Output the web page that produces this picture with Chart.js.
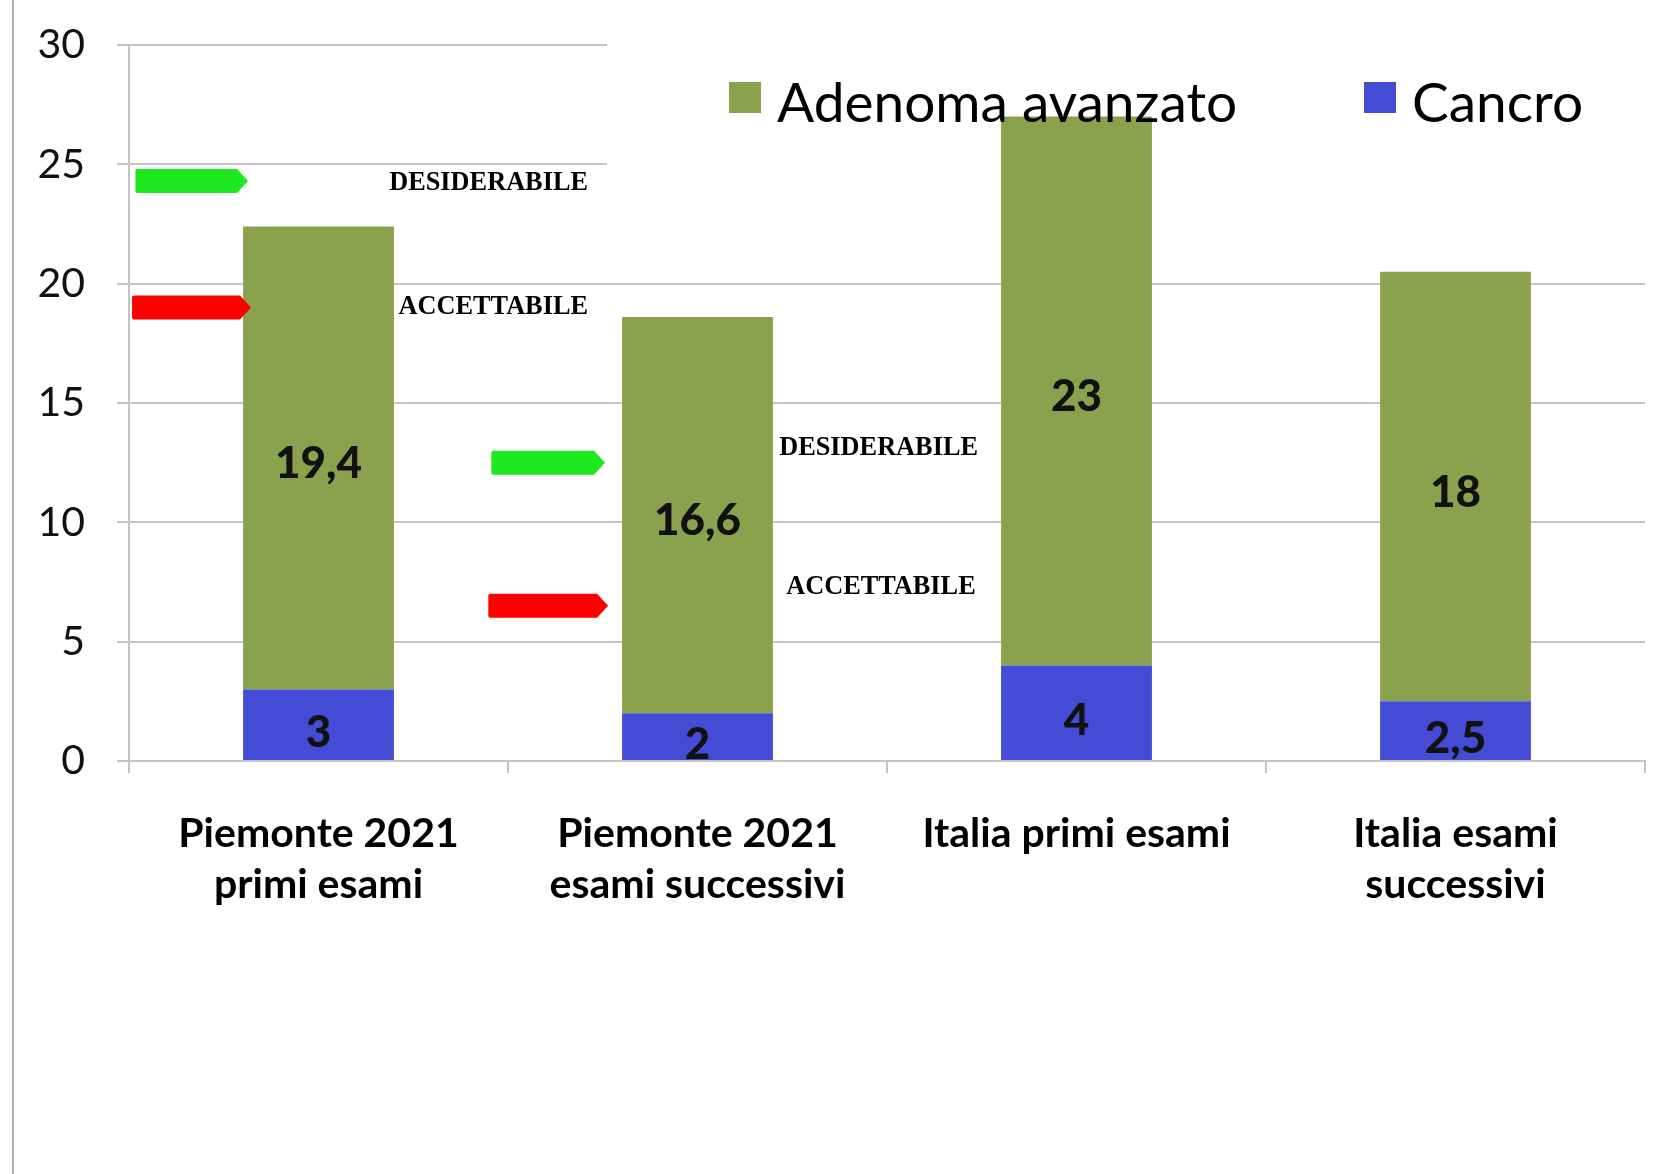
<!DOCTYPE html>
<html>
<head>
<meta charset="utf-8">
<script src="https://cdn.jsdelivr.net/npm/chart.js@4/dist/chart.umd.min.js"></script>
<style>
  html, body { margin: 0; padding: 0; background: #fff; }
  #wrap { position: relative; width: 1666px; height: 1174px; }
</style>
</head>
<body>
<div id="wrap"><canvas id="chart" width="1666" height="1174"></canvas></div>
<script>
// data
const categories = [
    ['Piemonte 2021', 'primi esami'],
    ['Piemonte 2021', 'esami successivi'],
    'Italia primi esami',
    ['Italia esami', 'successivi']
];
const cancro = [3, 2, 4, 2.5];
const adenoma = [19.4, 16.6, 23, 18];
const yTicks = [0, 5, 10, 15, 20, 25, 30];
const soglieTesti = ['DESIDERABILE', 'ACCETTABILE', 'DESIDERABILE', 'ACCETTABILE'];
const soglieValori = [24.3, 19.0, 12.5, 6.5];

const GREEN = '#8aa24d';
const BLUE = '#444cd6';
const GRID = '#c4c4c4';

function fmt(v) {
    return String(v).replace('.', ',');
}

// arrows + their captions (x in category units)
const arrowLayout = [
    { x0: -0.483, x1: -0.186, color: '#1ee81e', textEnd: 0.711, textVal: 24.2 },
    { x0: -0.492, x1: -0.178, color: '#ff0000', textEnd: 0.711, textVal: 19.0 },
    { x0: 0.456, x1: 0.756, color: '#1ee81e', textEnd: 1.740, textVal: 13.1 },
    { x0: 0.448, x1: 0.764, color: '#ff0000', textEnd: 1.734, textVal: 7.3 }
];

const decorPlugin = {
    id: 'decor',
    beforeDatasetsDraw(chart) {
        const ctx = chart.ctx;
        // white box of the legend hides the top gridlines on the right
        ctx.save();
        ctx.fillStyle = '#fff';
        ctx.fillRect(607, 0, chart.width - 607, 200);
        ctx.restore();
    },
    afterDatasetsDraw(chart) {
        const ctx = chart.ctx;
        const xs = chart.scales.x;
        const ys = chart.scales.y;
        ctx.save();

        // value labels inside the segments
        ctx.font = '900 44px Lato';
        ctx.fillStyle = '#111';
        ctx.textAlign = 'center';
        ctx.textBaseline = 'middle';
        chart.data.datasets.forEach((ds, di) => {
            const shift = di === 0 ? 8 : 6;
            chart.getDatasetMeta(di).data.forEach((bar, i) => {
                const cy = (bar.y + bar.base) / 2 + shift;
                ctx.fillText(fmt(ds.data[i]), bar.x, cy);
            });
        });

        // threshold arrows
        soglieValori.forEach((v, i) => {
            const a = arrowLayout[i];
            const x0 = xs.getPixelForValue(a.x0);
            const x1 = xs.getPixelForValue(a.x1);
            const y = ys.getPixelForValue(v);
            const h = 24, tip = 11;
            ctx.fillStyle = a.color;
            ctx.beginPath();
            ctx.moveTo(x0 + 2, y - h / 2);
            ctx.lineTo(x1 - tip, y - h / 2);
            ctx.lineTo(x1, y);
            ctx.lineTo(x1 - tip, y + h / 2);
            ctx.lineTo(x0 + 2, y + h / 2);
            ctx.quadraticCurveTo(x0, y + h / 2, x0, y + h / 2 - 2);
            ctx.lineTo(x0, y - h / 2 + 2);
            ctx.quadraticCurveTo(x0, y - h / 2, x0 + 2, y - h / 2);
            ctx.fill();

            ctx.fillStyle = '#000';
            ctx.font = 'bold 26.3px "Liberation Serif"';
            ctx.textAlign = 'right';
            ctx.textBaseline = 'middle';
            ctx.fillText(soglieTesti[i], xs.getPixelForValue(a.textEnd), ys.getPixelForValue(a.textVal));
        });

        // legend
        const items = [
            { label: chart.data.datasets[1].label, color: GREEN, x: 729 },
            { label: chart.data.datasets[0].label, color: BLUE, x: 1364 }
        ];
        ctx.font = '55px Lato';
        ctx.textAlign = 'left';
        ctx.textBaseline = 'middle';
        items.forEach(it => {
            ctx.fillStyle = it.color;
            ctx.fillRect(it.x, 82, 32, 31);
            ctx.fillStyle = '#000';
            ctx.fillText(it.label, it.x + 48, 104);
        });

        // slide edge on the left
        ctx.strokeStyle = '#b0b0b0';
        ctx.lineWidth = 2;
        ctx.beginPath();
        ctx.moveTo(13, 0);
        ctx.lineTo(13, chart.height);
        ctx.stroke();

        ctx.restore();
    }
};

new Chart(document.getElementById('chart'), {
    type: 'bar',
    data: {
        labels: categories,
        datasets: [
            { label: 'Cancro', data: cancro, backgroundColor: BLUE },
            { label: 'Adenoma avanzato', data: adenoma, backgroundColor: GREEN }
        ]
    },
    options: {
        responsive: false,
        animation: false,
        events: [],
        layout: { padding: { top: 45, right: 21, left: 0, bottom: 0 } },
        datasets: {
            bar: { barPercentage: 0.398, categoryPercentage: 1.0 }
        },
        plugins: {
            legend: { display: false },
            tooltip: { enabled: false }
        },
        scales: {
            x: {
                stacked: true,
                grid: { offset: true, drawOnChartArea: false, tickLength: 12, color: GRID, lineWidth: 2 },
                border: { color: GRID, width: 2 },
                ticks: {
                    color: '#000',
                    font: { family: 'Lato', weight: 'bold', size: 41, lineHeight: 1.25 },
                    padding: 35,
                    maxRotation: 0,
                    autoSkip: false
                },
                afterFit(scale) { scale.height = 413; }
            },
            y: {
                stacked: true,
                min: 0,
                max: 30,
                afterBuildTicks(scale) { scale.ticks = yTicks.map(v => ({ value: v })); },
                grid: { color: GRID, lineWidth: 2, tickLength: 12 },
                border: { color: GRID, width: 2 },
                ticks: {
                    color: '#111',
                    font: { family: 'Lato', size: 41 },
                    padding: 32
                },
                afterFit(scale) {
                    scale.width = 129;
                    scale.paddingTop = 0;
                    scale.paddingBottom = 0;
                }
            }
        }
    },
    plugins: [decorPlugin]
});
</script>
</body>
</html>
